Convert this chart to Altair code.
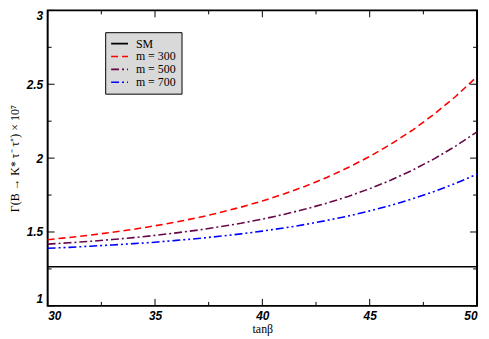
import altair as alt
import pandas as pd

# ---- data ----
tanb = [30, 31, 32, 33, 34, 35, 36, 37, 38, 39, 40, 41, 42, 43, 44, 45, 46, 47, 48, 49, 50]
sm_vals = [1.265, 1.265, 1.265, 1.265, 1.265, 1.265, 1.265, 1.265, 1.265, 1.265, 1.265,
           1.265, 1.265, 1.265, 1.265, 1.265, 1.265, 1.265, 1.265, 1.265, 1.265]
m300 = [1.448, 1.463, 1.479, 1.498, 1.518, 1.542, 1.568, 1.597, 1.631, 1.668, 1.710,
        1.757, 1.810, 1.869, 1.936, 2.011, 2.096, 2.190, 2.297, 2.417, 2.552]
m500 = [1.418, 1.427, 1.437, 1.449, 1.462, 1.477, 1.494, 1.513, 1.535, 1.559, 1.587,
        1.619, 1.655, 1.695, 1.741, 1.793, 1.852, 1.919, 1.995, 2.081, 2.178]
m700 = [1.390, 1.396, 1.404, 1.412, 1.421, 1.431, 1.443, 1.456, 1.471, 1.487, 1.506,
        1.527, 1.551, 1.578, 1.608, 1.643, 1.681, 1.725, 1.774, 1.829, 1.891]

series_names = ["SM", "m = 300", "m = 500", "m = 700"]
series_colors = ["#000000", "#ff0000", "#670748", "#0000ff"]
series_dashes = [[1, 0], [7, 4], [8, 3, 2, 3], [8, 3, 2, 3, 2, 3]]

x_major = [30, 35, 40, 45, 50]
x_minor = [32.5, 37.5, 42.5, 47.5]
y_major = [1, 1.5, 2, 2.5, 3]
y_minor = [1.25, 1.75, 2.25, 2.75]

rows = []
for name, vals in zip(series_names, [sm_vals, m300, m500, m700]):
    for t, v in zip(tanb, vals):
        rows.append({"tanb": t, "val": v, "series": name})
df = pd.DataFrame(rows)

W, H = 433, 298
xs = alt.Scale(domain=[30, 50], nice=False, zero=False)
ys = alt.Scale(domain=[1, 3], nice=False, zero=False)
SERIF = "Liberation Serif"
SANS = "Liberation Sans"

lab = dict(labelFont=SANS, labelFontWeight="bold", labelFontStyle="italic",
           labelFontSize=12, labelColor="black", format="~g")

xaxis = alt.Axis(values=x_major, ticks=False, domain=False, grid=False,
                 labelPadding=5, title="tanβ", titleFont=SERIF,
                 titleFontWeight="normal", titleFontSize=12, titleColor="black",
                 titlePadding=2, **lab)
yaxis = alt.Axis(values=y_major, ticks=False, domain=False, grid=False,
                 labelPadding=5, labelFlush=True,
                 title="Γ(B → K* τ⁻ τ⁺) × 10⁷", titleFont=SERIF,
                 titleFontWeight="normal", titleFontSize=12, titleColor="black",
                 titlePadding=5, **lab)

legend = alt.Legend(title=None, orient="none", legendX=58, legendY=22,
                    fillColor="#d9d9d9", strokeColor="black", padding=5,
                    symbolType="stroke", symbolSize=289, symbolStrokeWidth=1.6,
                    clipHeight=13, rowPadding=0,
                    labelFont=SERIF, labelFontSize=12, labelColor="black",
                    labelFontWeight="normal", labelOffset=7)

lines = alt.Chart(df).mark_line(strokeWidth=1.6).encode(
    x=alt.X("tanb:Q", scale=xs, axis=xaxis),
    y=alt.Y("val:Q", scale=ys, axis=yaxis),
    color=alt.Color("series:N", sort=series_names,
                    scale=alt.Scale(domain=series_names, range=series_colors), legend=legend),
    strokeDash=alt.StrokeDash("series:N", sort=series_names,
                              scale=alt.Scale(domain=series_names, range=series_dashes),
                              legend=legend),
)


def xticks(vals, y0, y1):
    d = pd.DataFrame({"t": vals})
    return alt.Chart(d).mark_rule(color="black", strokeWidth=1).encode(
        x=alt.X("t:Q", scale=xs, axis=xaxis), y=alt.value(y0), y2=alt.value(y1))


def yticks(vals, x0, x1):
    d = pd.DataFrame({"t": vals})
    return alt.Chart(d).mark_rule(color="black", strokeWidth=1).encode(
        y=alt.Y("t:Q", scale=ys, axis=yaxis), x=alt.value(x0), x2=alt.value(x1))


layers = [
    lines,
    xticks(x_major, H, H - 7), xticks(x_minor, H, H - 4),
    xticks(x_major, 0, 7), xticks(x_minor, 0, 4),
    yticks(y_major, 0, 7), yticks(y_minor, 0, 4),
    yticks(y_major, W, W - 7), yticks(y_minor, W, W - 4),
]

chart = alt.layer(*layers).properties(
    width=W, height=H, padding={"left": 0, "top": 0, "right": 0, "bottom": 0}
).configure_view(stroke="black", strokeWidth=2)

chart.save("out.html", embed_options={"renderer": "svg", "actions": False})
